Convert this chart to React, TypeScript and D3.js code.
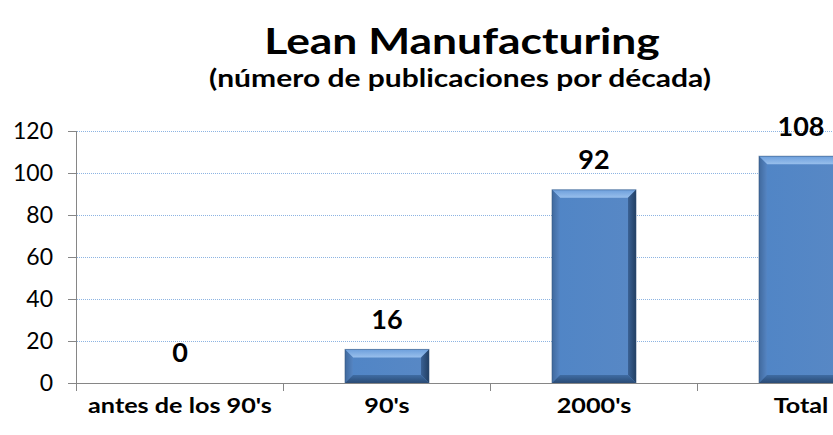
import React from "react";
import * as d3 from "d3";

const categories = ["antes de los 90's", "90's", "2000's", "Total"];
const values = [0, 16, 92, 108];
const yTicks = [0, 20, 40, 60, 80, 100, 120];
const title = "Lean Manufacturing";
const subtitle = "(número de publicaciones por década)";

const W = 833;
const H = 435;
const FONT = "Lato, 'Open Sans', sans-serif";

export default function App() {
  const x = d3
    .scaleBand<string>()
    .domain(categories)
    .range([76.5, 76.5 + 207 * 4])
    .paddingInner(0.594)
    .paddingOuter(0.297);
  const y = d3.scaleLinear().domain([0, 120]).range([383, 131]);
  const step = x.step();
  const bw = x.bandwidth();
  const bev = 8;

  return (
    <svg
      width={W}
      height={H}
      style={{ position: "absolute", left: 0, top: 0, background: "#fff" }}
      fontFamily={FONT}
    >
      <defs>
        <linearGradient id="face" x1="0" y1="0" x2="1" y2="0">
          <stop offset="0" stopColor="#5085c6" />
          <stop offset="1" stopColor="#5888c5" />
        </linearGradient>
        <linearGradient id="topB" x1="0" y1="0" x2="0" y2="1">
          <stop offset="0" stopColor="#6d9fdc" />
          <stop offset="1" stopColor="#98bfec" />
        </linearGradient>
        <linearGradient id="leftB" x1="0" y1="0" x2="1" y2="0">
          <stop offset="0" stopColor="#40699d" />
          <stop offset="1" stopColor="#5585c3" />
        </linearGradient>
        <linearGradient id="rightB" x1="0" y1="0" x2="1" y2="0">
          <stop offset="0" stopColor="#3a6194" />
          <stop offset="1" stopColor="#223f63" />
        </linearGradient>
        <linearGradient id="botB" x1="0" y1="0" x2="0" y2="1">
          <stop offset="0" stopColor="#3f6ca3" />
          <stop offset="1" stopColor="#2a4b75" />
        </linearGradient>
      </defs>

      {/* gridlines */}
      {yTicks
        .filter((t) => t > 0)
        .map((t) => (
          <line
            key={"g" + t}
            x1={77}
            x2={W}
            y1={Math.round(y(t)) + 0.5}
            y2={Math.round(y(t)) + 0.5}
            stroke="#8db4e2"
            strokeWidth={1}
            strokeDasharray="1,1"
          />
        ))}

      {/* bars */}
      {categories.map((c, i) => {
        const v = values[i];
        if (v <= 0) return null;
        const x0 = x(c)!;
        const x1 = x0 + bw;
        const y0 = y(v);
        const y1 = y(0);
        const b = Math.min(bev, (y1 - y0) / 2);
        return (
          <g key={"b" + c}>
            <rect x={x0} y={y0} width={bw} height={y1 - y0} fill="url(#face)" />
            <polygon
              points={`${x0},${y0} ${x1},${y0} ${x1 - b},${y0 + b} ${x0 + b},${y0 + b}`}
              fill="url(#topB)"
            />
            <polygon
              points={`${x0},${y0} ${x0 + b},${y0 + b} ${x0 + b},${y1 - b} ${x0},${y1}`}
              fill="url(#leftB)"
            />
            <polygon
              points={`${x1},${y0} ${x1},${y1} ${x1 - b},${y1 - b} ${x1 - b},${y0 + b}`}
              fill="url(#rightB)"
            />
            <polygon
              points={`${x0},${y1} ${x1},${y1} ${x1 - b},${y1 - b} ${x0 + b},${y1 - b}`}
              fill="url(#botB)"
            />
            <rect
              x={x0}
              y={y0}
              width={bw}
              height={y1 - y0}
              fill="none"
              stroke="#2f4f78"
              strokeOpacity={0.5}
              strokeWidth={1}
            />
          </g>
        );
      })}

      {/* y axis */}
      <line x1={76.5} x2={76.5} y1={y(120)} y2={y(0) + 8} stroke="#868686" />
      {yTicks.map((t) => (
        <g key={"yt" + t}>
          <line
            x1={68}
            x2={77}
            y1={Math.round(y(t)) + 0.5}
            y2={Math.round(y(t)) + 0.5}
            stroke="#868686"
          />
          <text
            x={53}
            y={y(t)}
            dy="0.35em"
            textAnchor="end"
            fontSize={23}
            fill="#000"
          >
            {t}
          </text>
        </g>
      ))}

      {/* x axis */}
      <line x1={68} x2={W} y1={383.5} y2={383.5} stroke="#868686" />
      {d3.range(categories.length + 1).map((i) => (
        <line
          key={"xt" + i}
          x1={76.5 + i * step}
          x2={76.5 + i * step}
          y1={383}
          y2={391}
          stroke="#868686"
        />
      ))}
      {categories.map((c) => (
        <text
          key={"xl" + c}
          transform={`translate(${x(c)! + bw / 2},${413}) scale(1.2,1)`}
          textAnchor="middle"
          fontSize={21}
          fontWeight="bold"
          fill="#000"
        >
          {c}
        </text>
      ))}

      {/* value labels */}
      {categories.map((c, i) => (
        <text
          key={"vl" + c}
          x={x(c)! + bw / 2}
          y={y(values[i]) - 30}
          dy="0.35em"
          textAnchor="middle"
          fontSize={27}
          fontWeight="bold"
          fill="#000"
        >
          {values[i]}
        </text>
      ))}

      {/* titles */}
      <text
        transform={`translate(462,54) scale(1.2,1)`}
        textAnchor="middle"
        fontSize={37}
        fontWeight="bold"
        fill="#000"
      >
        {title}
      </text>
      <text
        transform={`translate(460,87) scale(1.25,1)`}
        textAnchor="middle"
        fontSize={24}
        fontWeight="bold"
        fill="#000"
      >
        {subtitle}
      </text>
    </svg>
  );
}
